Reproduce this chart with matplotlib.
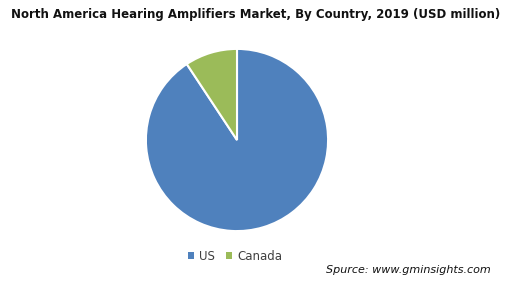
import matplotlib.pyplot as plt
from matplotlib.patches import Patch

countries = ["US", "Canada"]
shares = [90.7, 9.3]
colors = ["#4F81BD", "#9BBB59"]

fig = plt.figure(figsize=(5.11, 2.92), dpi=100)
fig.text(0.5, 0.952, "North America Hearing Amplifiers Market, By Country, 2019 (USD million)",
         ha="center", va="center", fontsize=8.5, fontweight="bold", color="#111111")

ax = fig.add_axes([145 / 511, 60 / 292, 184 / 511, 184 / 292])
ax.pie(shares, colors=colors, startangle=90, counterclock=False,
       wedgeprops=dict(edgecolor="white", linewidth=1.5))
ax.set_xlim(-1.01, 1.01)
ax.set_ylim(-1.01, 1.01)
ax.set_aspect("equal")

handles = [Patch(facecolor=c, edgecolor="none") for c in colors]
fig.legend(handles, countries, loc="center", bbox_to_anchor=(0.46, 0.122), ncol=2,
           frameon=False, fontsize=8.5, handlelength=0.5, handleheight=0.5,
           handletextpad=0.4, columnspacing=1.0, labelcolor="#404040")

fig.text(0.96, 0.075, "Spurce: www.gminsights.com", ha="right", va="center",
         fontsize=8, style="italic", color="#111111")

fig.savefig("out.png", dpi=100)
